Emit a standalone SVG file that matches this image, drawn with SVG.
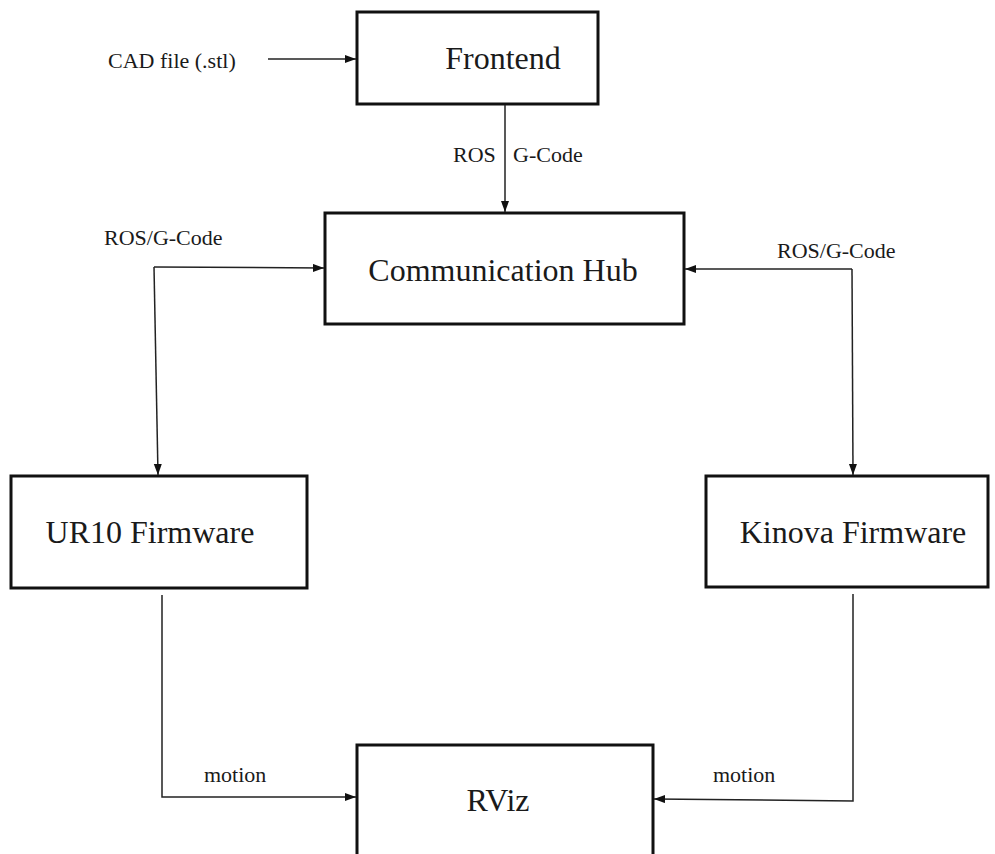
<svg xmlns="http://www.w3.org/2000/svg" width="995" height="854" viewBox="0 0 995 854">
<style>
.box{fill:#fff;stroke:#111;stroke-width:3}
.big{font-family:"Liberation Serif","Times New Roman",serif;font-size:32px;fill:#1a1a1a;text-anchor:middle}
.lbl{font-family:"Liberation Serif","Times New Roman",serif;font-size:22px;fill:#1a1a1a}
.con{fill:none;stroke:#222;stroke-width:1.5}
</style>
<defs>
<marker id="ah" markerUnits="userSpaceOnUse" markerWidth="12" markerHeight="10" refX="11" refY="4" orient="auto">
<path d="M0,0 L11,4 L0,8 Z" fill="#111"/>
</marker>
</defs>
<rect width="995" height="854" fill="#fff"/>
<g id="frontend">
<rect class="box" x="357" y="12" width="241" height="92"/>
<text class="big" x="503" y="69">Frontend</text>
</g>
<g id="hub">
<rect class="box" x="325" y="213" width="359" height="111"/>
<text class="big" x="503" y="281">Communication Hub</text>
</g>
<g id="ur10">
<rect class="box" x="11" y="476" width="296" height="112"/>
<text class="big" x="150" y="543">UR10 Firmware</text>
</g>
<g id="kinova">
<rect class="box" x="706" y="476" width="282" height="111"/>
<text class="big" x="853" y="543">Kinova Firmware</text>
</g>
<g id="rviz">
<rect class="box" x="357" y="745" width="296" height="140"/>
<text class="big" x="498" y="811">RViz</text>
</g>
<g id="connectors">
<line class="con" x1="268" y1="59" x2="356" y2="59" marker-end="url(#ah)"/>
<line class="con" x1="505" y1="105" x2="505" y2="212" marker-end="url(#ah)"/>
<line class="con" x1="154" y1="267" x2="324" y2="268" marker-end="url(#ah)"/>
<line class="con" x1="154" y1="267" x2="158" y2="475" marker-end="url(#ah)"/>
<line class="con" x1="852" y1="269" x2="685" y2="269" marker-end="url(#ah)"/>
<line class="con" x1="852" y1="269" x2="853" y2="475" marker-end="url(#ah)"/>
<path class="con" d="M162,595 L162,797 L356,797" marker-end="url(#ah)"/>
<path class="con" d="M853,594 L853,801 L654,799" marker-end="url(#ah)"/>
</g>
<g id="labels">
<text class="lbl" x="108" y="68">CAD file (.stl)</text>
<text class="lbl" x="453" y="162">ROS</text>
<text class="lbl" x="513" y="162">G-Code</text>
<text class="lbl" x="104" y="245">ROS/G-Code</text>
<text class="lbl" x="777" y="258">ROS/G-Code</text>
<text class="lbl" x="204" y="782">motion</text>
<text class="lbl" x="713" y="782">motion</text>
</g>
</svg>
